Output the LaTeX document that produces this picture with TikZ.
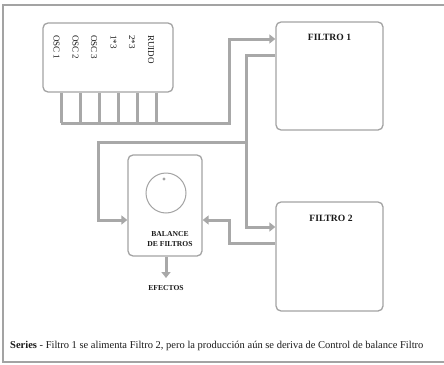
\documentclass[tikz,border=0pt]{standalone}
\usepackage{fontspec}
\setmainfont{Liberation Serif}
\usetikzlibrary{arrows.meta}
\definecolor{wiregray}{HTML}{A8A8A8}
\definecolor{boxgray}{HTML}{A3A3A3}
\definecolor{txt}{HTML}{1A1A1A}
\tikzset{
  box/.style={draw=boxgray, line width=1.3pt, rounded corners=5pt, fill=white, inner sep=0pt},
  wire/.style={draw=wiregray, line width=3pt},
  arr/.style={wire, -{Triangle[length=6pt,width=9pt]}},
  lbl/.style={font=\fontsize{9.6}{10}\selectfont\bfseries, text=txt, inner sep=0pt},
  slbl/.style={font=\fontsize{7.6}{9}\selectfont\bfseries, text=txt, inner sep=0pt, align=center},
  vlbl/.style={font=\fontsize{9}{9}\selectfont, text=txt, inner sep=0pt, rotate=-90, anchor=west},
}
\begin{document}
\begin{tikzpicture}[x=1pt,y=-1pt]
\useasboundingbox (0,0) rectangle (444,364);
\draw[boxgray, line width=1.3pt] (447,5) -- (3,5) -- (3,362) -- (447,362);

% boxes
\node[box, minimum width=130pt, minimum height=69pt] (osc) at (108,57.5) {};
\node[box, minimum width=107pt, minimum height=108pt] (f1) at (329.5,76) {};
\node[box, minimum width=107pt, minimum height=109pt] (f2) at (329.5,256.5) {};
\node[box, minimum width=74pt, minimum height=101pt] (bal) at (165,205.5) {};

% labels
\node[lbl] (f1l) at (329.5,37) {FILTRO 1};
\node[lbl] (f2l) at (331,218) {FILTRO 2};
\node[vlbl] (o1) at (56.5,35) {OSC 1};
\node[vlbl] (o2) at (75.5,35) {OSC 2};
\node[vlbl] (o3) at (94,35) {OSC 3};
\node[vlbl] (o4) at (113.5,35) {1*3};
\node[vlbl] (o5) at (132,35) {2*3};
\node[vlbl] (o6) at (151,35) {RUIDO};
\node[slbl] (bl) at (170,239.5) {BALANCE\\[1pt]DE FILTROS};
\node[slbl] (ef) at (166,288.5) {EFECTOS};

% knob
\node[draw=boxgray, line width=1pt, circle, minimum size=40pt, inner sep=0pt] (knob) at (166,193) {};
\fill[boxgray] (164,179) circle (1.6pt);

% oscillator taps
\foreach \x in {61,80,99,118,137,156} {
  \draw[wire] (osc.south -| \x,0) -- (\x,123);
}
\coordinate (busL) at (61,123);
\coordinate (busR) at (229,123);
\coordinate (busT) at (229,39);
\draw[arr] (busL) -- (busR) -- (busT) -- (f1.west |- busT);

% filtro 1 out
\coordinate (f1o) at (f1.west |- 0,55);
\coordinate (j1) at (246,55);
\coordinate (j2) at (246,142);
\coordinate (j3) at (246,227);
\draw[arr] (f1o) -- (j1) -- (j3) -- (f2.west |- j3);
\coordinate (b1) at (98,142);
\coordinate (b2) at (98,220);
\draw[arr] (j2) -- (b1) -- (b2) -- (bal.west |- b2);

% filtro 2 out
\coordinate (f2o) at (f2.west |- 0,243);
\coordinate (k1) at (229,243);
\coordinate (k2) at (229,220);
\draw[arr] (f2o) -- (k1) -- (k2) -- (bal.east |- k2);

% to efectos
\draw[arr] (bal.south -| knob) -- (166,278);

% caption
\node[anchor=base west, inner sep=0pt, text=txt, font=\fontsize{10.5}{12}\selectfont] (cap) at (10,348) {\textbf{Series} - Filtro 1 se alimenta Filtro 2, pero la producción aún se deriva de Control de balance Filtro};
\end{tikzpicture}
\end{document}
